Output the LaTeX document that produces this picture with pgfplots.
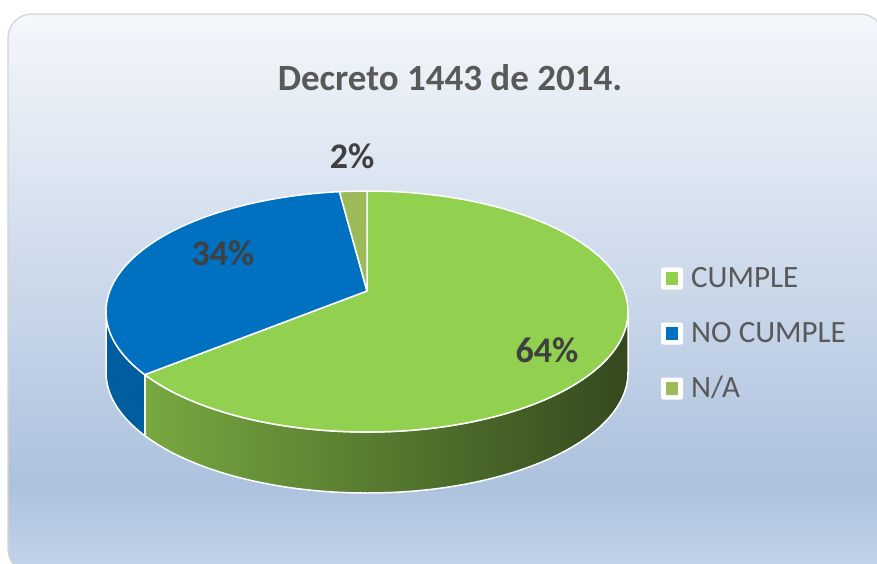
\documentclass[border=0pt]{standalone}
\usepackage{pgfplots}
\usepackage{pgfplotstable}
\pgfplotsset{compat=1.18}
\usepackage{fontspec}
\setmainfont{Carlito}

\definecolor{sl0}{HTML}{92D050}
\definecolor{sl1}{HTML}{0070C0}
\definecolor{sl2}{HTML}{9BBB59}
\definecolor{blueside}{HTML}{005DA0}
\definecolor{gsL}{HTML}{78A840}
\definecolor{gsM}{HTML}{4C6E2D}
\definecolor{gsR}{HTML}{34491E}
\definecolor{txtdark}{HTML}{404040}
\definecolor{txtgray}{HTML}{595959}
\definecolor{bgtop}{HTML}{F4F7FB}
\definecolor{bgmid}{HTML}{ADC2DE}
\definecolor{bgbot}{HTML}{C4D4E9}
\definecolor{bordergray}{HTML}{D4D4D4}

\pgfdeclareverticalshading{chartbg}{100bp}{color(0bp)=(bgbot); color(25bp)=(bgbot); color(33bp)=(bgmid); color(75bp)=(bgtop); color(100bp)=(bgtop)}

\tikzset{
  side0/.style={left color=gsL, middle color=gsM, right color=gsR},
  side1/.style={fill=blueside},
  side2/.style={fill=sl2!70!black},
}

% label, value, label x, label baseline y (axis units = px)
\pgfplotstableread[col sep=comma]{
label,value,lx,ly
CUMPLE,64,547,201
NO CUMPLE,34,223,298
N/A,2,352,394
}\piedata

% perspective map of a circle angle to the drawn ellipse angle
\newcommand\mappsi[2]{%
  \pgfmathsetmacro\tmpraw{atan2(sin(#1)+0.17, 0.98544*cos(#1))}%
  \pgfmathsetmacro\tmpd{\tmpraw-(#1)}%
  \pgfmathsetmacro\tmpd{\tmpd-360*round(\tmpd/360)}%
  \pgfmathsetmacro#2{#1+\tmpd}%
}

\def\cx{367}\def\cy{251.5}\def\rx{261}\def\ry{120.5}
\def\ax{367}\def\ay{272}\def\dep{61}

\begin{document}
\begin{tikzpicture}
\pgfplotstablegetrowsof{\piedata}
\pgfmathtruncatemacro\lastrow{\pgfplotsretval-1}
\gdef\cum{0}
\foreach \i in {0,...,\lastrow}{%
  \pgfplotstablegetelem{\i}{value}\of\piedata
  \let\val\pgfplotsretval
  \pgfmathsetmacro\phiS{90-3.6*\cum}%
  \pgfmathsetmacro\phiE{90-3.6*(\cum+\val)}%
  \mappsi{\phiS}{\psiS}%
  \mappsi{\phiE}{\psiE}%
  \expandafter\xdef\csname psiS\i\endcsname{\psiS}%
  \expandafter\xdef\csname psiE\i\endcsname{\psiE}%
  \pgfmathsetmacro\newcum{\cum+\val}%
  \xdef\cum{\newcum}%
}
\begin{axis}[scale only axis, width=877pt, height=563pt,
  xmin=0, xmax=877, ymin=0, ymax=563, hide axis, clip=false,
  anchor=south west, at={(0pt,0pt)}]
\addplot[draw=none, forget plot] coordinates {(0,0)};
\pgfplotsextra{%
  % background panel
  \shadedraw[shading=chartbg, draw=bordergray, line width=1.3pt, rounded corners=24pt]
    (axis cs:8,-10) rectangle (axis cs:884,549);
  % side walls
  \foreach \i in {0,...,\lastrow}{%
    \edef\ps{\csname psiS\i\endcsname}\edef\pe{\csname psiE\i\endcsname}%
    \pgfmathsetmacro\lo{max(\pe,-180)}%
    \pgfmathsetmacro\hi{min(\ps,0)}%
    \pgfmathtruncatemacro\vis{\lo<\hi}%
    \ifnum\vis=1
      \pgfmathsetmacro\xa{\cx+\rx*cos(\lo)}%
      \pgfmathsetmacro\ya{\cy+\ry*sin(\lo)}%
      \path[side\i, draw=white, line width=1.5pt, line join=round]
        (axis cs:\xa,\ya) arc[start angle=\lo, end angle=\hi, x radius=\rx pt, y radius=\ry pt]
        -- ++(0pt,-\dep pt)
        arc[start angle=\hi, end angle=\lo, x radius=\rx pt, y radius=\ry pt] -- cycle;
    \fi
  }
  % top faces
  \foreach \i in {0,...,\lastrow}{%
    \edef\ps{\csname psiS\i\endcsname}\edef\pe{\csname psiE\i\endcsname}%
    \pgfmathsetmacro\xa{\cx+\rx*cos(\ps)}%
    \pgfmathsetmacro\ya{\cy+\ry*sin(\ps)}%
    \path[fill=sl\i, draw=white, line width=1.5pt, line join=round]
      (axis cs:\ax,\ay) -- (axis cs:\xa,\ya)
      arc[start angle=\ps, end angle=\pe, x radius=\rx pt, y radius=\ry pt] -- cycle;
  }
  % data labels and legend
  \foreach \i in {0,...,\lastrow}{%
    \pgfplotstablegetelem{\i}{value}\of\piedata \let\val\pgfplotsretval
    \pgfplotstablegetelem{\i}{lx}\of\piedata \let\lx\pgfplotsretval
    \pgfplotstablegetelem{\i}{ly}\of\piedata \let\ly\pgfplotsretval
    \pgfplotstablegetelem{\i}{label}\of\piedata \let\lab\pgfplotsretval
    \node[anchor=base, inner sep=0pt, text=txtdark, font=\fontsize{36}{43}\selectfont\bfseries]
      at (axis cs:\lx,\ly) {\val\%};
    \pgfmathsetmacro\lb{276-55*\i}%
    \pgfmathsetmacro\sc{\lb+8.5}%
    \fill[white, rounded corners=2pt] (axis cs:661,\sc-11) rectangle (axis cs:683,\sc+11);
    \fill[sl\i] (axis cs:666,\sc-6.5) rectangle (axis cs:678,\sc+6.5);
    \node[anchor=base west, inner sep=0pt, text=txtgray, font=\fontsize{31}{37}\selectfont]
      at (axis cs:691,\lb) {\lab};
  }
  % title
  \node[anchor=base, inner sep=0pt, text=txtgray, font=\fontsize{37}{44}\selectfont\bfseries]
    at (axis cs:450,472) {Decreto 1443 de 2014.};
}
\end{axis}
\pgfresetboundingbox
\useasboundingbox (0pt,0pt) rectangle (877pt,563pt);
\end{tikzpicture}
\end{document}
